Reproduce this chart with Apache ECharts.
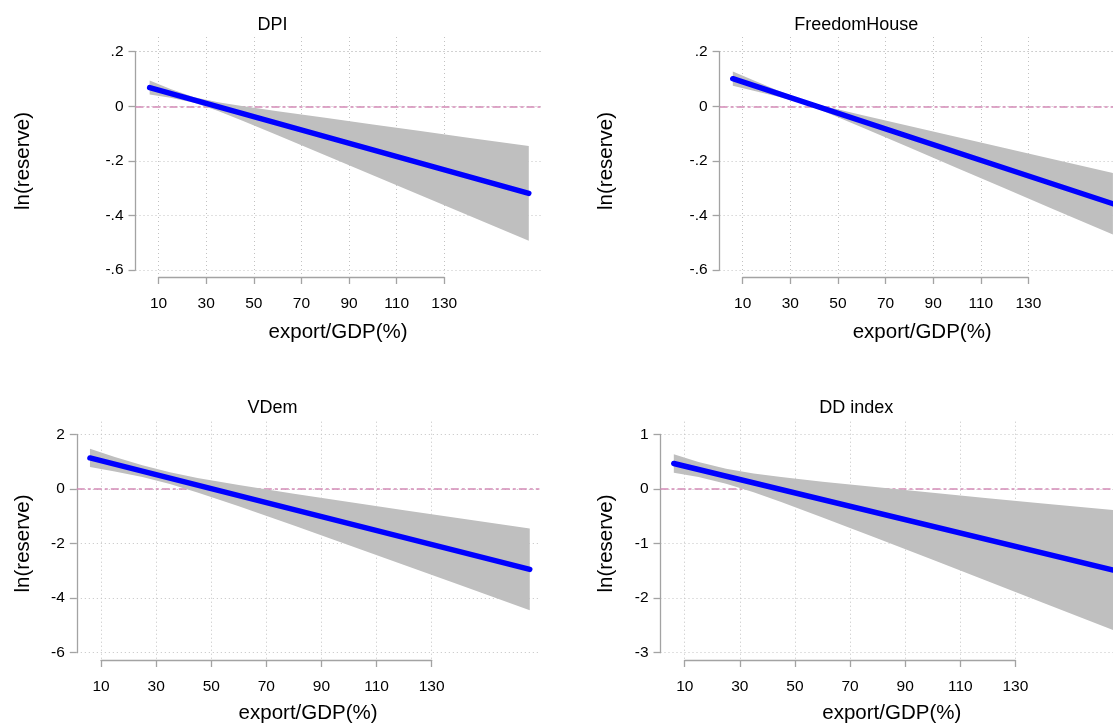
<!DOCTYPE html>
<html><head><meta charset="utf-8">
<script src="https://cdn.jsdelivr.net/npm/echarts@6/dist/echarts.min.js"></script>
<style>html,body{margin:0;padding:0;background:#fff}#c{width:1113px;height:724px}</style>
</head><body><div id="c"></div>
<script>
// ---------- data ----------
const panelTitles = ['DPI', 'FreedomHouse', 'VDem', 'DD index'];
const xAxisTitle = 'export/GDP(%)';
const yAxisTitle = 'ln(reserve)';
const xTickLabels = ['10', '30', '50', '70', '90', '110', '130'];

const yTicksDPI = [-0.6, -0.4, -0.2, 0, 0.2];
const yTickLabelsDPI = ['-.6', '-.4', '-.2', '0', '.2'];
const yTicksFH = [-0.6, -0.4, -0.2, 0, 0.2];
const yTickLabelsFH = ['-.6', '-.4', '-.2', '0', '.2'];
const yTicksVDem = [-6, -4, -2, 0, 2];
const yTickLabelsVDem = ['-6', '-4', '-2', '0', '2'];
const yTicksDD = [-3, -2, -1, 0, 1];
const yTickLabelsDD = ['-3', '-2', '-1', '0', '1'];

// fitted line end points
const dpiLineX = [6.25, 165.5];
const dpiLineY = [0.0687, -0.3191];
const fhLineX = [5.85, 165.5];
const fhLineY = [0.101, -0.3572];
const vdemLineX = [5.98, 165.6];
const vdemLineY = [1.134, -2.9475];
const ddLineX = [6.03, 165.5];
const ddLineY = [0.465, -1.4869];

// confidence bands
const dpiBandX = [6.25, 15, 25, 35, 45, 60, 80, 100, 120, 140, 165.5];
const dpiBandUpper = [0.094, 0.0633, 0.033, 0.0146, 0.0009, -0.0179, -0.0423, -0.0666, -0.0908, -0.1149, -0.1456];
const dpiBandLower = [0.0435, 0.0315, 0.013, -0.0172, -0.0523, -0.1065, -0.1795, -0.2526, -0.3258, -0.3991, -0.4926];

const fhBandX = [5.85, 15, 25, 35, 45, 60, 80, 100, 120, 140, 165.5];
const fhBandUpper = [0.127, 0.0931, 0.0567, 0.0236, -0.0007, -0.0319, -0.0723, -0.1126, -0.1528, -0.1929, -0.2441];
const fhBandLower = [0.075, 0.0563, 0.0353, 0.011, -0.0221, -0.0769, -0.1513, -0.2258, -0.3004, -0.3751, -0.4703];

const vdemBandX = [5.98, 15, 25, 35, 45, 60, 80, 100, 120, 140, 165.6];
const vdemBandUpper = [1.469, 1.168, 0.864, 0.608, 0.401, 0.141, -0.175, -0.478, -0.778, -1.075, -1.454];
const vdemBandLower = [0.799, 0.638, 0.432, 0.176, -0.129, -0.636, -1.343, -2.062, -2.785, -3.511, -4.442];

const ddBandX = [6.03, 15, 25, 35, 45, 60, 80, 100, 120, 140, 165.5];
const ddBandUpper = [0.633, 0.492, 0.369, 0.283, 0.217, 0.132, 0.028, -0.072, -0.170, -0.266, -0.389];
const ddBandLower = [0.297, 0.219, 0.096, -0.063, -0.241, -0.523, -0.909, -1.299, -1.691, -2.084, -2.585];

// ---------- layout ----------
const FONT = '"Liberation Sans", Arial, Helvetica, sans-serif';
const rows = [
  {plotTop: 37, plotBottom: 277, tickTop: 51.7, tickBottom: 270, axisY: 282, titleY: 25, xNameY: 332, yNameY: 161},
  {plotTop: 421.7, plotBottom: 660, tickTop: 434.3, tickBottom: 652.7, axisY: 665.7, titleY: 408, xNameY: 713, yNameY: 543.5}
];
const panels = [
  {row: 0, plotLeft: 135.5, plotWidth: 405.2, xMin: 0.3, xMax: 170.5, titleX: 272.5, yNameX: 23,
   yTicks: yTicksDPI, yLabels: yTickLabelsDPI, bx: dpiBandX, bu: dpiBandUpper, bl: dpiBandLower, lx: dpiLineX, ly: dpiLineY},
  {row: 0, plotLeft: 719.6, plotWidth: 405.2, xMin: 0.3, xMax: 170.5, titleX: 856.3, yNameX: 606,
   yTicks: yTicksFH, yLabels: yTickLabelsFH, bx: fhBandX, bu: fhBandUpper, bl: fhBandLower, lx: fhLineX, ly: fhLineY},
  {row: 1, plotLeft: 76.8, plotWidth: 462.6, xMin: 1.2, xMax: 169.1, titleX: 272.5, yNameX: 23,
   yTicks: yTicksVDem, yLabels: yTickLabelsVDem, bx: vdemBandX, bu: vdemBandUpper, bl: vdemBandLower, lx: vdemLineX, ly: vdemLineY},
  {row: 1, plotLeft: 660.5, plotWidth: 462.6, xMin: 1.2, xMax: 169.1, titleX: 856.3, yNameX: 606,
   yTicks: yTicksDD, yLabels: yTickLabelsDD, bx: ddBandX, bu: ddBandUpper, bl: ddBandLower, lx: ddLineX, ly: ddLineY}
];

const AXIS_COLOR = '#a3a3a3';
const GRID_COLOR = '#c2c2c2';
const gridLineStyle = {color: GRID_COLOR, width: 1, type: [1, 3]};

const grid = [], xAxis = [], yAxis = [], series = [], graphic = [];

panels.forEach((p, i) => {
  const r = rows[p.row];
  const scale = p.plotWidth / (p.xMax - p.xMin);
  const tMin = 10, tMax = 130;
  // grid A : data + y axis
  grid.push({left: p.plotLeft, top: r.tickTop, width: p.plotWidth, height: r.tickBottom - r.tickTop,
             containLabel: false, outerBoundsMode: 'none'});
  // grid B : x axis + vertical grid lines
  grid.push({left: p.plotLeft + (tMin - p.xMin) * scale, top: r.plotTop, width: (tMax - tMin) * scale,
             height: r.plotBottom - r.plotTop, containLabel: false, outerBoundsMode: 'none'});
  const gA = 2 * i, gB = 2 * i + 1;
  const yt = p.yTicks;
  xAxis.push({gridIndex: gA, type: 'value', min: p.xMin, max: p.xMax, show: false});
  yAxis.push({gridIndex: gA, type: 'value', min: yt[0], max: yt[yt.length - 1], interval: yt[1] - yt[0],
    axisLine: {show: true, lineStyle: {color: AXIS_COLOR, width: 1.3}},
    axisTick: {show: true, inside: false, length: 7, lineStyle: {color: AXIS_COLOR, width: 1.3}},
    axisLabel: {show: true, margin: 12, color: '#000', fontSize: 15.5, fontFamily: FONT,
      showMinLabel: true, showMaxLabel: true,
      formatter: v => { const k = yt.findIndex(t => Math.abs(t - v) < 1e-9); return k >= 0 ? p.yLabels[k] : ''; }},
    splitLine: {show: true, lineStyle: gridLineStyle}});
  xAxis.push({gridIndex: gB, type: 'category', data: xTickLabels, boundaryGap: false, position: 'bottom',
    offset: r.axisY - r.plotBottom,
    axisLine: {show: true, lineStyle: {color: AXIS_COLOR, width: 1.3}},
    axisTick: {show: true, inside: false, length: 7, interval: 0, lineStyle: {color: AXIS_COLOR, width: 1.3}},
    axisLabel: {show: true, interval: 0, margin: 13.5, color: '#000', fontSize: 15.5, fontFamily: FONT},
    splitLine: {show: true, interval: 0, lineStyle: gridLineStyle}});
  yAxis.push({gridIndex: gB, type: 'value', show: false, min: 0, max: 1});

  const axisIdx = i * 2;
  series.push({
    type: 'custom', xAxisIndex: axisIdx, yAxisIndex: axisIdx, z: 2, silent: true,
    data: p.bx.map((x, k) => [x, p.bu[k], p.bl[k]]),
    encode: {x: 0, y: [1, 2]},
    renderItem: (params, api) => {
      if (params.dataIndex !== 0) return null;
      const pts = [];
      for (let k = 0; k < p.bx.length; k++) pts.push(api.coord([p.bx[k], p.bu[k]]));
      for (let k = p.bx.length - 1; k >= 0; k--) pts.push(api.coord([p.bx[k], p.bl[k]]));
      return {type: 'polygon', shape: {points: pts}, style: {fill: '#bfbfbf', stroke: null}};
    }
  });
  series.push({
    type: 'line', xAxisIndex: axisIdx, yAxisIndex: axisIdx, z: 3, silent: true,
    data: p.lx.map((x, k) => [x, p.ly[k]]), symbol: 'none', clip: false,
    lineStyle: {color: '#0000ff', width: 5.5, cap: 'round'},
    markLine: {silent: true, symbol: 'none', z: 1, animation: false, label: {show: false},
      lineStyle: {color: '#d38ab6', width: 1.5, type: [8, 3, 3, 3]},
      data: [{yAxis: 0}]}
  });

  graphic.push({type: 'text', x: p.titleX, y: r.titleY, silent: true,
    style: {text: panelTitles[i], fontSize: 18, fontFamily: FONT, fill: '#000', align: 'center', verticalAlign: 'middle'}});
  graphic.push({type: 'text', x: p.plotLeft + p.plotWidth / 2, y: r.xNameY, silent: true,
    style: {text: xAxisTitle, fontSize: 20.5, fontFamily: FONT, fill: '#000', align: 'center', verticalAlign: 'middle'}});
  graphic.push({type: 'text', x: p.yNameX, y: r.yNameY, rotation: Math.PI / 2, silent: true,
    style: {text: yAxisTitle, fontSize: 20.5, fontFamily: FONT, fill: '#000', align: 'center', verticalAlign: 'middle'}});
});

const chart = echarts.init(document.getElementById('c'), null, {renderer: 'canvas'});
chart.setOption({
  animation: false,
  backgroundColor: '#fff',
  grid, xAxis, yAxis, series, graphic
});
</script></body></html>
